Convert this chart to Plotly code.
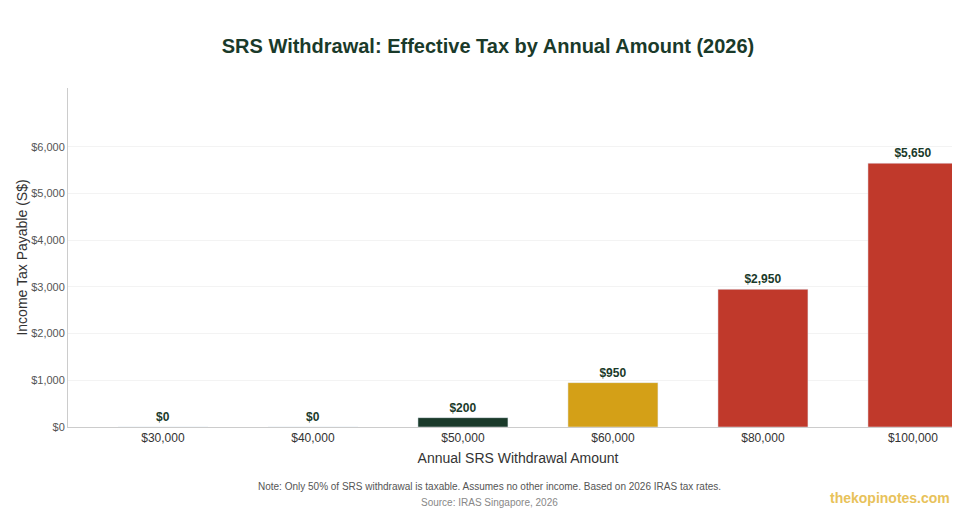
import plotly.graph_objects as go

categories = ["$30,000", "$40,000", "$50,000", "$60,000", "$80,000", "$100,000"]
tax = [0, 0, 200, 950, 2950, 5650]
labels = ["$0", "$0", "$200", "$950", "$2,950", "$5,650"]
colors = ["#1a3a2a", "#1a3a2a", "#1a3a2a", "#d4a017", "#c0392b", "#c0392b"]

fig = go.Figure(go.Bar(
    x=list(range(len(categories))), y=tax, marker_color=colors, width=0.6,
    text=labels, textposition="outside", cliponaxis=False,
    textfont=dict(family="Liberation Sans", size=12, color="#1a3a2a", weight="bold"),
))
fig.update_layout(
    width=960, height=520, plot_bgcolor="white", paper_bgcolor="white",
    margin=dict(l=60, r=0, t=80, b=101, autoexpand=False),
    font=dict(family="Liberation Sans", color="#333"),
    title=dict(text="<b>SRS Withdrawal: Effective Tax by Annual Amount (2026)</b>",
               x=0.5, xanchor="center", y=0.927, yanchor="middle", font=dict(size=20, color="#1a3a2a")),
    showlegend=False,
    xaxis=dict(tickmode="array", tickvals=list(range(len(categories))), ticktext=categories,
               range=[-0.633, 5.367], showline=True, linecolor="#ccc", ticks="", automargin=False,
               tickfont=dict(size=12, color="#333"),
               title=dict(text="Annual SRS Withdrawal Amount", font=dict(size=14, color="#333"), standoff=8)),
    yaxis=dict(range=[0, 7260], tickvals=[0, 1000, 2000, 3000, 4000, 5000, 6000],
               ticktext=["$0", "$1,000", "$2,000", "$3,000", "$4,000", "$5,000", "$6,000"],
               showline=True, linecolor="#ccc", gridcolor="#f3f3f3", zeroline=False, automargin=False,
               tickfont=dict(size=11, color="#555"),
               title=dict(text="Income Tax Payable (S$)", font=dict(size=14, color="#333"), standoff=0)),
    annotations=[
        dict(text="Note: Only 50% of SRS withdrawal is taxable. Assumes no other income. Based on 2026 IRAS tax rates.",
             xref="paper", yref="paper", x=0.468, y=-0.198, showarrow=False, font=dict(size=10, color="#555")),
        dict(text="Source: IRAS Singapore, 2026", xref="paper", yref="paper", x=0.468, y=-0.245,
             showarrow=False, font=dict(size=10, color="#888")),
        dict(text="<b>thekopinotes.com</b>", xref="paper", yref="paper", x=0.982, xanchor="right", y=-0.239,
             showarrow=False, font=dict(size=14, color="#e8c25a")),
    ],
)
fig.write_html("out.html")
